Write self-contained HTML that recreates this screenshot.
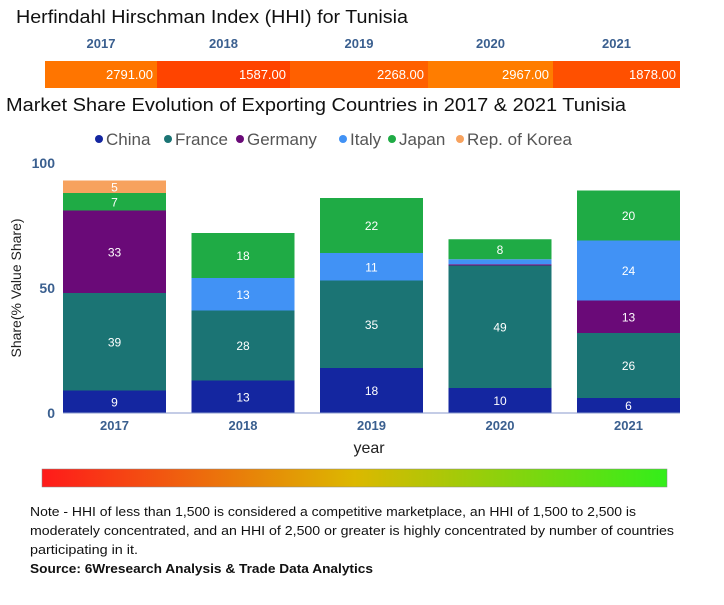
<!DOCTYPE html>
<html><head><meta charset="utf-8"><style>
body{margin:0;background:#fff;width:724px;height:600px;overflow:hidden;font-family:"Liberation Sans",sans-serif}
svg text{font-family:"Liberation Sans",sans-serif}
</style></head><body>
<svg id="c" width="724" height="600">
<text x="16" y="23" font-size="18" fill="#111" textLength="392" lengthAdjust="spacingAndGlyphs">Herfindahl Hirschman Index (HHI) for Tunisia</text>
<g id="hhi"></g>
<text x="6" y="111" font-size="18" fill="#111" textLength="620" lengthAdjust="spacingAndGlyphs">Market Share Evolution of Exporting Countries in 2017 &amp; 2021 Tunisia</text>
<g id="legend"></g>
<g id="bars"></g>
<g id="axes"></g>
<text x="369" y="453" font-size="16" fill="#222" text-anchor="middle">year</text>
<text transform="translate(21,288) rotate(-90)" font-size="14" fill="#222" text-anchor="middle">Share(% Value Share)</text>
<defs><linearGradient id="g" x1="0" x2="1"><stop offset="0" stop-color="#ff1a1a"/><stop offset="0.5" stop-color="#dcb800"/><stop offset="1" stop-color="#33ee1a"/></linearGradient></defs>
<rect x="42" y="469" width="625" height="18" fill="url(#g)" stroke="#888" stroke-width="0.5"/>
<text font-size="13" fill="#111">
<tspan x="30" y="516" textLength="606" lengthAdjust="spacingAndGlyphs">Note - HHI of less than 1,500 is considered a competitive marketplace, an HHI of 1,500 to 2,500 is</tspan>
<tspan x="30" y="535" textLength="644" lengthAdjust="spacingAndGlyphs">moderately concentrated, and an HHI of 2,500 or greater is highly concentrated by number of countries</tspan>
<tspan x="30" y="554" textLength="108" lengthAdjust="spacingAndGlyphs">participating in it.</tspan>
</text>
<text x="30" y="573" font-size="13" font-weight="bold" fill="#111" textLength="343" lengthAdjust="spacingAndGlyphs">Source: 6Wresearch Analysis &amp; Trade Data Analytics</text>
</svg>
<script>
const years=["2017","2018","2019","2020","2021"];
const hhiValues=[2791,1587,2268,2967,1878];
const seriesNames=["China","France","Germany","Italy","Japan","Rep. of Korea"];
const china=[9,13,18,10,6];
const france=[39,28,35,49,26];
const germany=[33,0,0,0.5,13];
const italy=[0,13,11,2,24];
const japan=[7,18,22,8,20];
const korea=[5,0,0,0,0];
const yTicks=[0,50,100];
const colors=["#1426a0","#1b7474","#6a0a78","#4192f5","#1fab45","#f7a25e"];
const NS="http://www.w3.org/2000/svg";
function mk(t,a,p){const e=document.createElementNS(NS,t);for(const k in a)e.setAttribute(k,a[k]);p.appendChild(e);return e;}
const hhiEdges=[45,157,290,428,553,680];
function hhiColor(v){const t=Math.max(0,Math.min(1,(v-1500)/1500));const g=Math.round(64+t*62);return "rgb(255,"+g+",0)";}
const hg=document.getElementById('hhi');
years.forEach((y,i)=>{
 const x0=hhiEdges[i],x1=hhiEdges[i+1];
 const r=mk('rect',{x:x0,y:61,width:x1-x0,height:27,fill:hhiColor(hhiValues[i])},hg);
 
 
 const t=mk('text',{x:x1-4,y:79,'font-size':13,fill:'#fff','text-anchor':'end'},hg);
 t.textContent=hhiValues[i].toFixed(2);
 
 
 const l=mk('text',{x:(x0+x1)/2,y:48,'font-size':13,'font-weight':'bold',fill:'#3a5f8f','text-anchor':'middle'},hg);
 l.textContent=y;
 
 
});
const lg=document.getElementById('legend');
const legX=[99,168,240,343,392,460];
seriesNames.forEach((n,i)=>{
 const c=mk('circle',{cx:legX[i],cy:139,r:4,fill:colors[i]},lg);
 
 
 const t=mk('text',{x:legX[i]+7,y:145,'font-size':17,fill:'#555'},lg);
 t.textContent=n;
 
 
});
const base=413,scale=2.5;
function yS(v){return base-v*scale;}
const step=128.5,bw=103,bx0=63;
function xS(i){return bx0+i*step;}
const series=[china,france,germany,italy,japan,korea];
const bg=document.getElementById('bars');
years.forEach((y,i)=>{
 let cum=0;
 series.forEach((s,k)=>{
  const v=s[i];if(!v)return;
  const r=mk('rect',{x:xS(i),y:yS(cum+v),width:bw,height:v*scale,fill:colors[k]},bg);
  
  
  if(v>=3){
   const t=mk('text',{x:xS(i)+bw/2,y:yS(cum+v/2)+4.5,'font-size':12,fill:'#fff','text-anchor':'middle'},bg);
   t.textContent=Math.round(v);
   
   
  }
  cum+=v;
 });
});
const ax=document.getElementById('axes');
const bl=mk('line',{x1:bx0,x2:xS(4)+bw,y1:base,y2:base,stroke:'#8899cc','stroke-width':1},ax);


yTicks.forEach(v=>{
 const t=mk('text',{x:55,y:yS(v)+5,'font-size':14,'font-weight':'bold',fill:'#3a5f8f','text-anchor':'end'},ax);
 t.textContent=v;
 
 
});
years.forEach((y,i)=>{
 const t=mk('text',{x:xS(i)+bw/2,y:430,'font-size':13,'font-weight':'bold',fill:'#3a5f8f','text-anchor':'middle'},ax);
 t.textContent=y;
 
 
});
</script>
</body></html>
